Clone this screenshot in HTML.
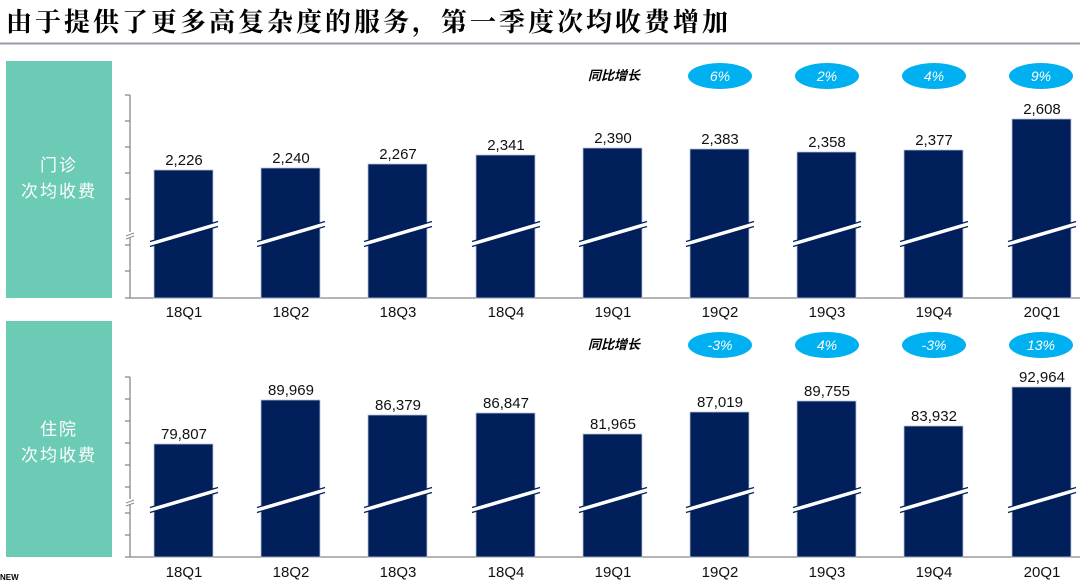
<!DOCTYPE html>
<html><head><meta charset="utf-8"><style>
body{margin:0;background:#fff;width:1080px;height:582px;overflow:hidden;font-family:"Liberation Sans","Noto Sans CJK SC",sans-serif}
</style></head><body>
<svg width="1080" height="582" xmlns="http://www.w3.org/2000/svg" font-family="Liberation Sans, Noto Sans CJK SC, sans-serif">
<text x="6" y="31" font-size="26" font-family="Noto Serif CJK SC, serif" font-weight="bold" fill="#000" letter-spacing="3">由于提供了更多高复杂度的服务，第一季度次均收费增加</text>
<line x1="0" y1="43.5" x2="1080" y2="43.5" stroke="#9a9aaa" stroke-width="2"/>
<rect x="6" y="61" width="106" height="237" fill="#6ccbb5"/>
<text x="59" y="171" font-size="17" fill="#fff" text-anchor="middle" font-family="Noto Sans CJK SC, sans-serif" letter-spacing="2">门诊</text>
<text x="59" y="197" font-size="17" fill="#fff" text-anchor="middle" font-family="Noto Sans CJK SC, sans-serif" letter-spacing="2">次均收费</text>
<rect x="6" y="321" width="106" height="236" fill="#6ccbb5"/>
<text x="59" y="435" font-size="17" fill="#fff" text-anchor="middle" font-family="Noto Sans CJK SC, sans-serif" letter-spacing="2">住院</text>
<text x="59" y="461" font-size="17" fill="#fff" text-anchor="middle" font-family="Noto Sans CJK SC, sans-serif" letter-spacing="2">次均收费</text>
<text x="0" y="580" font-size="8" fill="#000" font-weight="bold">NEW</text>
<g stroke="#888" stroke-width="1.3" fill="none">
<line x1="130" y1="95" x2="130" y2="298"/><line x1="125" y1="298" x2="1080" y2="298"/>
<path d="M125 95h5M125 121h5M125 147h5M125 173h5M125 199h5M125 245h5M125 271h5"/>
<line x1="130" y1="377" x2="130" y2="557"/><line x1="125" y1="557" x2="1080" y2="557"/>
<path d="M125 377h5M125 399h5M125 421h5M125 443h5M125 465h5M125 487h5M125 513h5M125 535h5"/>
</g>
<rect x="124" y="232" width="12" height="6" fill="#fff"/>
<path d="M126 236l8-3M126 239l8-3" stroke="#888" stroke-width="1"/>
<rect x="124" y="499" width="12" height="6" fill="#fff"/>
<path d="M126 503l8-3M126 506l8-3" stroke="#888" stroke-width="1"/>
<g id="top" fill="#001f5b" stroke="#b8c0d8" stroke-width="0.8">
<rect x="154" y="170" width="59" height="128"/>
<rect x="261" y="168" width="59" height="130"/>
<rect x="368" y="164" width="59" height="134"/>
<rect x="476" y="155" width="59" height="143"/>
<rect x="583" y="148" width="59" height="150"/>
<rect x="690" y="149" width="59" height="149"/>
<rect x="797" y="152" width="59" height="146"/>
<rect x="904" y="150" width="59" height="148"/>
<rect x="1012" y="119" width="59" height="179"/>
<rect x="154" y="444" width="59" height="113"/>
<rect x="261" y="400" width="59" height="157"/>
<rect x="368" y="415" width="59" height="142"/>
<rect x="476" y="413" width="59" height="144"/>
<rect x="583" y="434" width="59" height="123"/>
<rect x="690" y="412" width="59" height="145"/>
<rect x="797" y="401" width="59" height="156"/>
<rect x="904" y="426" width="59" height="131"/>
<rect x="1012" y="387" width="59" height="170"/>
</g>
<g stroke="#fff" stroke-width="4">
<path d="M150 244l68-20M257 244l68-20M364 244l68-20M472 244l68-20M579 244l68-20M686 244l68-20M793 244l68-20M900 244l68-20M1008 244l68-20"/>
<path d="M150 510l68-20M257 510l68-20M364 510l68-20M472 510l68-20M579 510l68-20M686 510l68-20M793 510l68-20M900 510l68-20M1008 510l68-20"/>
</g>
<g stroke="#001f5b" stroke-width="1.2">
<path d="M150 244l68-20M257 244l68-20M364 244l68-20M472 244l68-20M579 244l68-20M686 244l68-20M793 244l68-20M900 244l68-20M1008 244l68-20" transform="translate(0,-2.5)"/>
<path d="M150 244l68-20M257 244l68-20M364 244l68-20M472 244l68-20M579 244l68-20M686 244l68-20M793 244l68-20M900 244l68-20M1008 244l68-20" transform="translate(0,2.5)"/>
<path d="M150 510l68-20M257 510l68-20M364 510l68-20M472 510l68-20M579 510l68-20M686 510l68-20M793 510l68-20M900 510l68-20M1008 510l68-20" transform="translate(0,-2.5)"/>
<path d="M150 510l68-20M257 510l68-20M364 510l68-20M472 510l68-20M579 510l68-20M686 510l68-20M793 510l68-20M900 510l68-20M1008 510l68-20" transform="translate(0,2.5)"/>
</g>
<g font-size="15" fill="#111" text-anchor="middle">
<text x="184" y="165">2,226</text><text x="291" y="163">2,240</text><text x="398" y="159">2,267</text><text x="506" y="150">2,341</text><text x="613" y="143">2,390</text><text x="720" y="144">2,383</text><text x="827" y="147">2,358</text><text x="934" y="145">2,377</text><text x="1042" y="114">2,608</text>
<text x="184" y="439">79,807</text><text x="291" y="395">89,969</text><text x="398" y="410">86,379</text><text x="506" y="408">86,847</text><text x="613" y="429">81,965</text><text x="720" y="407">87,019</text><text x="827" y="396">89,755</text><text x="934" y="421">83,932</text><text x="1042" y="382">92,964</text>
<text x="184" y="317">18Q1</text><text x="291" y="317">18Q2</text><text x="398" y="317">18Q3</text><text x="506" y="317">18Q4</text><text x="613" y="317">19Q1</text><text x="720" y="317">19Q2</text><text x="827" y="317">19Q3</text><text x="934" y="317">19Q4</text><text x="1042" y="317">20Q1</text>
<text x="184" y="577">18Q1</text><text x="291" y="577">18Q2</text><text x="398" y="577">18Q3</text><text x="506" y="577">18Q4</text><text x="613" y="577">19Q1</text><text x="720" y="577">19Q2</text><text x="827" y="577">19Q3</text><text x="934" y="577">19Q4</text><text x="1042" y="577">20Q1</text>
</g>
<g font-size="13" font-style="italic" font-weight="bold" fill="#000" font-family="Noto Sans CJK SC, sans-serif">
<text x="588" y="80">同比增长</text><text x="588" y="349">同比增长</text>
</g>
<g fill="#00b0f0">
<ellipse cx="720" cy="76" rx="32" ry="13"/><ellipse cx="827" cy="76" rx="32" ry="13"/><ellipse cx="934" cy="76" rx="32" ry="13"/><ellipse cx="1041" cy="76" rx="32" ry="13"/>
<ellipse cx="720" cy="345" rx="32" ry="13"/><ellipse cx="827" cy="345" rx="32" ry="13"/><ellipse cx="934" cy="345" rx="32" ry="13"/><ellipse cx="1041" cy="345" rx="32" ry="13"/>
</g>
<g font-size="14" font-style="italic" fill="#fff" text-anchor="middle">
<text x="720" y="81">6%</text><text x="827" y="81">2%</text><text x="934" y="81">4%</text><text x="1041" y="81">9%</text>
<text x="720" y="350">-3%</text><text x="827" y="350">4%</text><text x="934" y="350">-3%</text><text x="1041" y="350">13%</text>
</g>
</svg>
</body></html>
